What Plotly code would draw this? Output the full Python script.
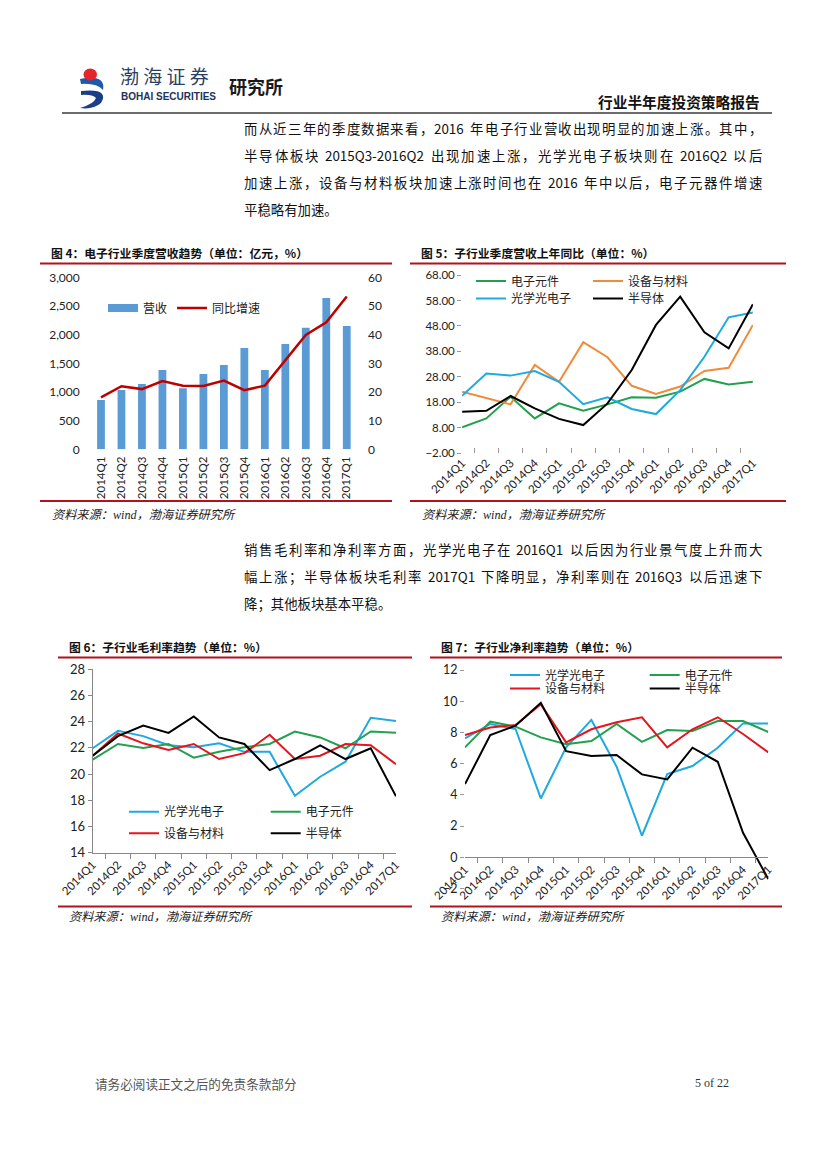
import plotly.graph_objects as go

W, H = 827, 1169
OFF = 8  # page body margin of the browser


def fx(px):
    return (px - OFF) / W


def fy(py):
    return 1 - (py - OFF) / H


quarters = ["2014Q1", "2014Q2", "2014Q3", "2014Q4", "2015Q1", "2015Q2", "2015Q3",
            "2015Q4", "2016Q1", "2016Q2", "2016Q3", "2016Q4", "2017Q1"]

# Fig 4: industry revenue (100m CNY) and YoY growth (%)
revenue = [860, 1035, 1140, 1384, 1064, 1314, 1471, 1767, 1384, 1837, 2122, 2640, 2151]
revenue_yoy = [18.1, 22.0, 21.0, 23.8, 22.2, 22.1, 24.0, 20.6, 22.2, 31.2, 39.9, 44.3, 53.3]

# Fig 5: sub-industry revenue YoY (%)
yoy_components = [8.2, 11.7, 20.2, 11.7, 17.6, 14.7, 17.2, 20.0, 19.8, 22.2, 27.2, 25.0, 26.1]
yoy_equipment = [22.2, 19.8, 17.2, 32.7, 26.1, 41.6, 35.7, 24.5, 21.3, 24.2, 30.3, 31.6, 48.4]
yoy_optical = [20.6, 29.3, 28.5, 30.3, 26.1, 17.3, 20.0, 15.4, 13.4, 22.8, 35.9, 51.4, 53.3]
yoy_semi = [14.3, 14.7, 20.5, 15.6, 11.5, 9.1, 17.6, 30.7, 48.4, 59.5, 45.5, 39.2, 56.5]

# Fig 6: gross margin (%)
gm_optical = [21.97, 23.3, 22.9, 22.2, 22.05, 22.35, 21.7, 21.7, 18.35, 19.8, 20.95, 24.3, 24.05]
gm_components = [21.1, 22.3, 22.0, 22.3, 21.25, 21.7, 22.05, 22.3, 23.25, 22.8, 21.97, 23.25, 23.15]
gm_equipment = [21.4, 23.1, 22.35, 21.85, 22.3, 21.15, 21.6, 23.0, 21.15, 21.4, 22.3, 22.2, 20.75]
gm_semi = [21.4, 22.9, 23.7, 23.15, 24.4, 22.8, 22.3, 20.3, 21.15, 22.2, 21.15, 21.97, 18.3]

# Fig 7: net margin (%)
nm_optical = [7.62, 8.54, 8.22, 3.77, 7.04, 8.8, 5.8, 1.38, 5.33, 5.85, 7.02, 8.58, 8.58]
nm_components = [7.04, 8.69, 8.37, 7.68, 7.24, 7.45, 8.54, 7.4, 8.15, 8.09, 8.73, 8.73, 8.03]
nm_equipment = [7.83, 8.32, 8.47, 9.8, 7.36, 8.2, 8.65, 8.97, 7.04, 8.2, 8.97, 7.9, 6.72]
nm_semi = [4.69, 7.83, 8.43, 9.9, 6.8, 6.49, 6.55, 5.31, 4.99, 7.02, 6.12, 1.57, -1.4]

C_GREEN = "#22a04f"
C_ORANGE = "#f08b3a"
C_BLUE = "#1fa9e1"
C_BLACK = "#000000"
C_RED = "#e3161f"
C_BAR = "#5b9bd5"
C_DRED = "#c00000"
C_RULE = "#b0131c"

FONT = "Lato, Noto Sans CJK SC, sans-serif"
CJK = "Noto Sans CJK SC, sans-serif"

fig = go.Figure()

# ---- Fig 4
fig.add_trace(go.Bar(x=quarters, y=revenue, name="营收", marker_color=C_BAR,
                     marker_line_width=0, xaxis="x", yaxis="y", showlegend=False))
# legend proxy so the bar series shows a wide swatch like the original
fig.add_trace(go.Scatter(x=[None], y=[None], name="营收", mode="lines",
                         line=dict(color=C_BAR, width=8), xaxis="x", yaxis="y",
                         legend="legend"))
fig.add_trace(go.Scatter(x=quarters, y=revenue_yoy, name="同比增速", mode="lines",
                         line=dict(color=C_DRED, width=2.5), xaxis="x", yaxis="y2",
                         legend="legend"))

# ---- Fig 5
for name, vals, col, lg in [("电子元件", yoy_components, C_GREEN, "legend2"),
                            ("设备与材料", yoy_equipment, C_ORANGE, "legend2"),
                            ("光学光电子", yoy_optical, C_BLUE, "legend3"),
                            ("半导体", yoy_semi, C_BLACK, "legend3")]:
    fig.add_trace(go.Scatter(x=quarters, y=vals, name=name, mode="lines",
                             line=dict(color=col, width=2), xaxis="x2", yaxis="y3",
                             legend=lg))

# ---- Fig 6
for name, vals, col, lg in [("光学光电子", gm_optical, C_BLUE, "legend4"),
                            ("电子元件", gm_components, C_GREEN, "legend4"),
                            ("设备与材料", gm_equipment, C_RED, "legend5"),
                            ("半导体", gm_semi, C_BLACK, "legend5")]:
    fig.add_trace(go.Scatter(x=quarters, y=vals, name=name, mode="lines",
                             line=dict(color=col, width=2), xaxis="x3", yaxis="y4",
                             legend=lg))

# ---- Fig 7
for name, vals, col, lg in [("光学光电子", nm_optical, C_BLUE, "legend6"),
                            ("电子元件", nm_components, C_GREEN, "legend6"),
                            ("设备与材料", nm_equipment, C_RED, "legend7"),
                            ("半导体", nm_semi, C_BLACK, "legend7")]:
    fig.add_trace(go.Scatter(x=quarters, y=vals, name=name, mode="lines",
                             line=dict(color=col, width=2), xaxis="x4", yaxis="y5",
                             legend=lg))


def legend_at(x_px, y_px, spacing=None):
    d = dict(orientation="h", x=fx(x_px), y=fy(y_px), xanchor="left", yanchor="middle",
             bgcolor="rgba(0,0,0,0)", borderwidth=0,
             font=dict(family=FONT, size=12, color="#222"), itemwidth=30,
             tracegroupgap=0, traceorder="normal")
    if spacing:
        d.update(entrywidth=spacing - 45, entrywidthmode="pixels")
    return d


tickfont = dict(family=FONT, size=12, color="#222")

layout = dict(
    template="none",
    width=W, height=H, margin=dict(l=0, r=0, t=0, b=0, pad=0, autoexpand=False),
    paper_bgcolor="white", plot_bgcolor="white",
    bargap=0.62,
    # fig 4
    xaxis=dict(domain=[fx(90.75), fx(357)], anchor="y", type="category", tickangle=-90,
               automargin=False, showgrid=False, showline=False, ticks="",
               tickfont=dict(family=FONT, size=11.5, color="#222"), ticklabelstandoff=4),
    yaxis=dict(domain=[fy(449.3), fy(277.3)], anchor="x", range=[0, 3000], dtick=500,
               automargin=False, tickformat=",", showgrid=False, showline=False,
               zeroline=False, ticks="", tickfont=tickfont, ticklabelstandoff=10),
    yaxis2=dict(overlaying="y", side="right", anchor="x", range=[0, 60], dtick=10,
                automargin=False, showgrid=False, showline=False, zeroline=False, ticks="",
                tickfont=tickfont, ticklabelstandoff=10),
    # fig 5
    xaxis2=dict(domain=[fx(462.1), fx(752.9)], anchor="y3", type="category", tickangle=-45,
                automargin=False, showgrid=False, showline=False, ticks="inside", ticklen=5,
                tickcolor="#999", tickson="boundaries",
                tickfont=dict(family=FONT, size=11.5, color="#222")),
    yaxis3=dict(domain=[fy(453.3), fy(275)], anchor="x2", range=[-2, 68], tick0=-2, dtick=10,
                automargin=False, tickformat=".2f", showgrid=False, showline=False,
                zeroline=False, ticks="outside", ticklen=4, tickcolor="#999",
                tickfont=dict(family=FONT, size=11.5, color="#222")),
    # fig 6
    xaxis3=dict(domain=[fx(92.7), fx(396)], anchor="y4", type="category", tickangle=-45,
                automargin=False, showgrid=False, showline=True, linecolor="#888",
                linewidth=1, ticks="outside", ticklen=5, tickcolor="#888",
                tickson="boundaries", tickfont=dict(family=FONT, size=11.5, color="#222")),
    yaxis4=dict(domain=[fy(852.7), fy(669.3)], anchor="x3", range=[14, 28], dtick=2,
                automargin=False, showgrid=False, showline=True, linecolor="#888",
                linewidth=1, zeroline=False, ticks="outside", ticklen=4, tickcolor="#888",
                tickfont=dict(family=FONT, size=13, color="#222")),
    # fig 7
    xaxis4=dict(domain=[fx(465), fx(768.3)], anchor="free", position=fy(857.3),
                automargin=False, type="category", tickangle=-45, showgrid=False,
                showline=True, linecolor="#888", linewidth=1, ticks="outside", ticklen=5,
                tickcolor="#888", tickson="boundaries",
                tickfont=dict(family=FONT, size=11.5, color="#222")),
    yaxis5=dict(domain=[fy(888.5), fy(670)], anchor="x4", range=[-2, 12], dtick=2,
                automargin=False, showgrid=False, showline=False, zeroline=False,
                ticks="outside", ticklen=4, tickcolor="#999",
                tickfont=dict(family=FONT, size=12.5, color="#222")),
    legend=legend_at(103, 308),
    legend2=legend_at(471, 281, 117),
    legend3=legend_at(471, 298.5, 117),
    legend4=legend_at(124, 811.7, 141.7),
    legend5=legend_at(124, 833.3, 141.7),
    legend6=legend_at(505, 675, 139.7),
    legend7=legend_at(505, 688.5, 139.7),
    showlegend=True,
)
fig.update_layout(**layout)

shapes = []
annotations = []


def hline(x0, x1, y, color, width):
    shapes.append(dict(type="line", xref="paper", yref="paper", x0=fx(x0), x1=fx(x1),
                       y0=fy(y), y1=fy(y), line=dict(color=color, width=width)))


def text(x, y, s, size, color="#111", family=CJK, xanchor="left"):
    annotations.append(dict(x=fx(x), y=fy(y), xref="paper", yref="paper", text=s,
                            showarrow=False, xanchor=xanchor, yanchor="middle",
                            borderpad=0, font=dict(family=family, size=size, color=color)))


def path(points):
    out = []
    for cmd, pts in points:
        coords = " ".join(f"{fx(px):.5f},{fy(py):.5f}" for px, py in pts)
        out.append(f"{cmd} {coords}")
    return " ".join(out) + " Z"


LATIN_W = {"Q": 0.74, "-": 0.36, " ": 0.34}


def tokenize(line):
    tokens, buf = [], ""
    for ch in line:
        if ord(ch) > 0x2E80:
            if buf:
                tokens.append(buf)
                buf = ""
            tokens.append(ch)
        else:
            buf += ch
    if buf:
        tokens.append(buf)
    return tokens


def token_width(tok, size):
    if ord(tok[0]) > 0x2E80:
        return size
    return sum(LATIN_W.get(c, 0.56) for c in tok) * size


def justified(x0, x1, y, line, size, color="#111"):
    toks = tokenize(line)
    widths = [token_width(t, size) for t in toks]
    gap = (x1 - x0 - sum(widths)) / (len(toks) - 1)
    x = x0
    for t, w in zip(toks, widths):
        s = t.strip()
        if s:
            lead = (len(t) - len(t.lstrip())) * LATIN_W[" "] * size
            text(x + lead, y, s, size, color)
        x += w + gap


# ---- header / logo
shapes.append(dict(type="path", xref="paper", yref="paper", fillcolor="#1d5ba8",
                   line=dict(width=0),
                   path=path([("M", [(80, 79)]), ("Q", [(106, 74), (103, 90)]),
                              ("Q", [(97, 83), (81, 84)])])))
shapes.append(dict(type="path", xref="paper", yref="paper", fillcolor="#1b3f86",
                   line=dict(width=0),
                   path=path([("M", [(81, 91)]), ("Q", [(110, 88), (101, 103)]),
                              ("Q", [(93, 110), (80, 108)]),
                              ("Q", [(94, 104), (96, 98)]),
                              ("Q", [(92, 94), (81, 95)])])))
shapes.append(dict(type="circle", xref="paper", yref="paper", x0=fx(83.5), x1=fx(97),
                   y0=fy(80.5), y1=fy(68.5), fillcolor="#e2262c", line=dict(width=0)))
text(119, 76, "渤 海 证 券", 19, "#2b3f63", "Noto Sans CJK SC")
text(120, 96.5, "<b>BOHAI SECURITIES</b>", 10, "#22335a", "Liberation Sans")
text(228, 85.5, "<b>研究所</b>", 18, "#1a1a1a")
text(761, 102, "<b>行业半年度投资策略报告</b>", 14.7, "#111", xanchor="right")
hline(62, 772, 113, "#3a3a3a", 1.6)

# ---- paragraph 1
PS = 13.4
para1 = ["而从近三年的季度数据来看，2016 年电子行业营收出现明显的加速上涨。其中，",
         "半导体板块 2015Q3-2016Q2 出现加速上涨，光学光电子板块则在 2016Q2 以后",
         "加速上涨，设备与材料板块加速上涨时间也在 2016 年中以后，电子元器件增速"]
for i, line in enumerate(para1):
    justified(243, 761, 128 + 27 * i, line, PS)
text(243, 128 + 27 * 3, "平稳略有加速。", PS)

para2 = ["销售毛利率和净利率方面，光学光电子在 2016Q1 以后因为行业景气度上升而大",
         "幅上涨；半导体板块毛利率 2017Q1 下降明显，净利率则在 2016Q3 以后迅速下"]
for i, line in enumerate(para2):
    justified(243, 761, 549 + 27 * i, line, PS)
text(243, 549 + 27 * 2, "降；其他板块基本平稳。", PS)

# ---- chart titles / rules / sources
SRC = "<i>资料来源：wind，渤海证券研究所</i>"
SRCF = "Liberation Serif, Noto Sans CJK SC"
TS = 11.8
SS = 12.2
text(50, 252, "<b>图 4：电子行业季度营收趋势（单位：亿元，%）</b>", TS)
hline(40, 392, 263.5, C_RULE, 1.8)
hline(40, 392, 501, C_RULE, 1.8)
text(51, 515, SRC, SS, "#222", SRCF)

text(420, 252, "<b>图 5：子行业季度营收上年同比（单位：%）</b>", TS)
hline(410, 786, 263.5, C_RULE, 1.8)
hline(410, 786, 501, C_RULE, 1.8)
text(421, 515, SRC, SS, "#222", SRCF)

text(68, 646.5, "<b>图 6：子行业毛利率趋势（单位：%）</b>", TS)
hline(58, 412, 657.5, C_RULE, 1.8)
hline(58, 412, 906.5, C_RULE, 1.8)
text(68, 917, SRC, SS, "#222", SRCF)

text(440, 646.5, "<b>图 7：子行业净利率趋势（单位：%）</b>", TS)
hline(430, 782, 657.5, C_RULE, 1.8)
hline(430, 782, 906.5, C_RULE, 1.8)
text(440, 917, SRC, SS, "#222", SRCF)

# ---- footer
text(94, 1083, "请务必阅读正文之后的免责条款部分", 12.6, "#555")
text(730, 1083, "5 of 22", 12, "#333", "Liberation Serif", xanchor="right")

fig.update_layout(shapes=shapes, annotations=annotations)
fig.write_html("out.html")
